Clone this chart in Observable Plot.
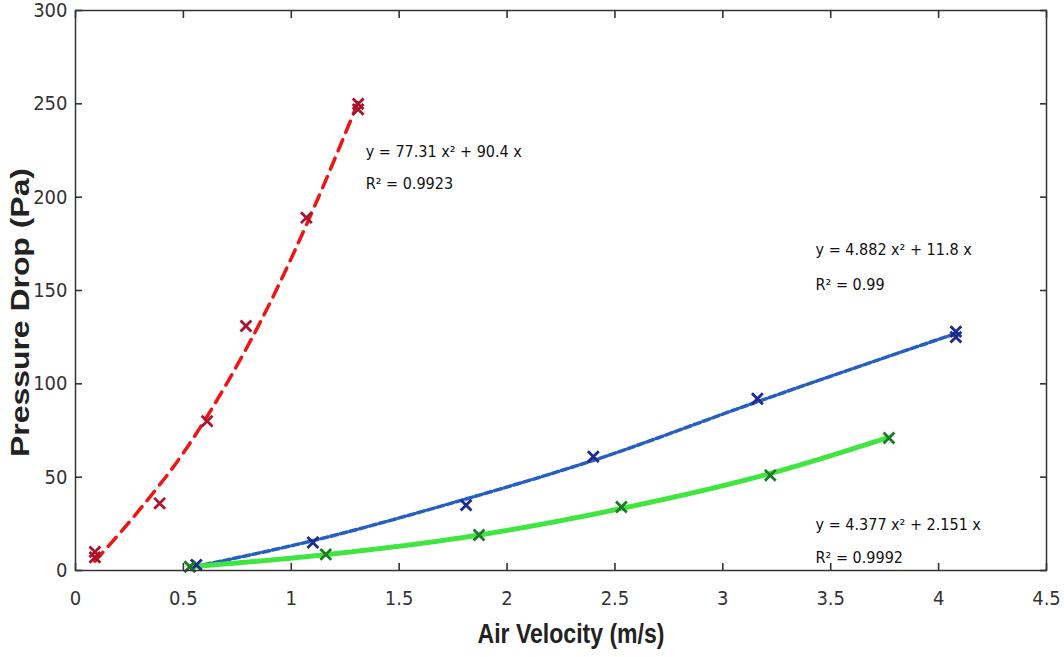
<!DOCTYPE html>
<html>
<head>
<meta charset="utf-8">
<script src="https://cdn.jsdelivr.net/npm/d3@7"></script>
<script src="https://cdn.jsdelivr.net/npm/@observablehq/plot@0.6"></script>
<style>
  body { margin: 0; background: #fff; }
  #chart svg { display: block; }
</style>
</head>
<body>
<div id="chart"></div>
<script>
// ---- measured data points (markers) ----
const redX   = [0.09, 0.09, 0.39, 0.61, 0.79, 1.07, 1.31, 1.31];
const redY   = [10, 7, 36, 80, 131, 189, 250, 247];
const blueX  = [0.56, 1.10, 1.81, 2.40, 3.16, 4.08, 4.08];
const blueY  = [3, 15, 35, 61, 92, 128, 125];
const greenX = [0.53, 1.16, 1.87, 2.53, 3.22, 3.77];
const greenY = [2, 8.6, 19, 34, 51, 71];

// ---- trend lines ----
const redFitX   = [0.09, 0.3, 0.5, 0.7, 0.9, 1.1, 1.31];
const redFitY   = [5, 33, 63, 100, 143, 193, 251];
const blueFitX  = [0.55, 1.1, 1.8, 2.4, 3.15, 4.08];
const blueFitY  = [2, 16, 38, 59, 90, 127];
const greenFitX = [0.53, 1.16, 1.87, 2.52, 3.22, 3.76];
const greenFitY = [2, 8.5, 19, 33, 52, 71];

// ---- annotations ----
const annoText = ["y = 77.31 x² + 90.4 x", "R² = 0.9923",
                  "y = 4.882 x² + 11.8 x", "R² = 0.99",
                  "y = 4.377 x² + 2.151 x", "R² = 0.9992"];
const annoX = [1.345, 1.345, 3.43, 3.43, 3.43, 3.43];
const annoY = [224, 207, 171.5, 153, 24.6, 7];

// ---- axes ----
const xTicks = [0, 0.5, 1, 1.5, 2, 2.5, 3, 3.5, 4, 4.5];
const xTickLabels = ["0", "0.5", "1", "1.5", "2", "2.5", "3", "3.5", "4", "4.5"];
const yTicks = [0, 50, 100, 150, 200, 250, 300];
const yTickLabels = ["0", "50", "100", "150", "200", "250", "300"];
const xTitle = "Air Velocity (m/s)";
const yTitle = "Pressure Drop (Pa)";

const pts = (xs, ys) => xs.map((x, i) => ({x, y: ys[i]}));
const annos = annoText.map((t, i) => ({t, x: annoX[i], y: annoY[i]}));

const narrow = "'Liberation Sans Narrow', 'Arial Narrow', 'DejaVu Sans Condensed', sans-serif";
const axisColor = "#333";

const chart = Plot.plot({
  width: 1064,
  height: 657,
  marginLeft: 75,
  marginRight: 18,
  marginTop: 10,
  marginBottom: 87,
  x: {domain: [0, 4.5]},
  y: {domain: [0, 300]},
  style: {fontFamily: narrow, background: "#fff", color: axisColor},
  marks: [
    // trend lines
    Plot.line(pts(redFitX, redFitY), {x: "x", y: "y", curve: "monotone-x", stroke: "#ee1515", strokeWidth: 3.5, strokeDasharray: "12,8"}),
    Plot.line(pts(blueFitX, blueFitY), {x: "x", y: "y", curve: "monotone-x", stroke: "#2560c0", strokeWidth: 3.5, strokeDasharray: "7,3"}),
    Plot.line(pts(greenFitX, greenFitY), {x: "x", y: "y", curve: "monotone-x", stroke: "#40e640", strokeWidth: 5, strokeDasharray: "2,1.8"}),
    // markers
    Plot.dot(pts(redX, redY), {x: "x", y: "y", symbol: "times", r: 5, stroke: "#a8142e", strokeWidth: 2.8}),
    Plot.dot(pts(blueX, blueY), {x: "x", y: "y", symbol: "times", r: 5, stroke: "#1b2b8f", strokeWidth: 2.8}),
    Plot.dot(pts(greenX, greenY), {x: "x", y: "y", symbol: "times", r: 5, stroke: "#1d7a24", strokeWidth: 2.8}),
    // annotations
    Plot.text(annos, {x: "x", y: "y", text: "t", textAnchor: "start", fontSize: 16, fill: "#111"}),
    // frame
    Plot.frame({stroke: axisColor, strokeWidth: 1.5}),
    // axes with inward ticks
    Plot.axisX(xTicks, {anchor: "bottom", tickSize: -7, tickPadding: 27, fontSize: 20, label: null,
      tickFormat: d => xTickLabels[xTicks.indexOf(d)], stroke: axisColor, strokeWidth: 1.6, fill: axisColor}),
    Plot.axisX(xTicks, {anchor: "top", tickSize: -7, label: null, tickFormat: () => "",
      stroke: axisColor, strokeWidth: 1.6}),
    Plot.axisY(yTicks, {anchor: "left", tickSize: -7, tickPadding: 15, fontSize: 20, label: null,
      tickFormat: d => yTickLabels[yTicks.indexOf(d)], stroke: axisColor, strokeWidth: 1.6, fill: axisColor}),
    Plot.axisY(yTicks, {anchor: "right", tickSize: -7, label: null, tickFormat: () => "",
      stroke: axisColor, strokeWidth: 1.6}),
    // axis titles
    Plot.text([xTitle], {frameAnchor: "bottom", text: d => d, dy: 72, dx: 10, fontSize: 28, fontWeight: "bold", fill: "#222",
      fontFamily: "'Liberation Sans', Arial, sans-serif"}),
    Plot.text([yTitle], {frameAnchor: "left", textAnchor: "middle", text: d => d, rotate: -90, dx: -55, dy: 22, fontSize: 25, fontWeight: "bold", fill: "#222",
      fontFamily: "'Liberation Sans', Arial, sans-serif"})
  ]
});

document.getElementById("chart").appendChild(chart);
// the reference's titles are optically squeezed / stretched: fit them to the measured lengths
const svg = d3.select(chart);
svg.selectAll("text").filter(function() { return this.textContent === xTitle; })
  .attr("textLength", 187).attr("lengthAdjust", "spacingAndGlyphs");
svg.selectAll("text").filter(function() { return this.textContent === yTitle; })
  .attr("textLength", 289).attr("lengthAdjust", "spacingAndGlyphs");
</script>
</body>
</html>
